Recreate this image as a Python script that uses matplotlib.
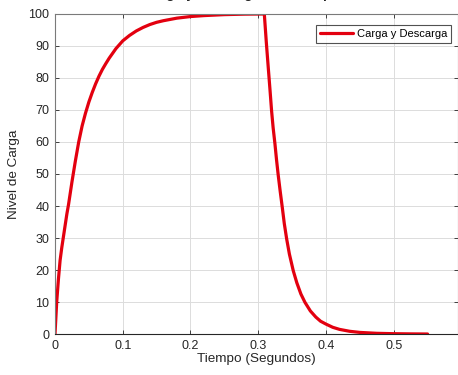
import matplotlib
matplotlib.use("Agg")
import matplotlib.pyplot as plt

# Charging phase
t_carga = [0, 0.0025, 0.005, 0.0075, 0.01, 0.0125, 0.015, 0.0175, 0.02, 0.025,
           0.03, 0.035, 0.04, 0.045, 0.05, 0.055, 0.06, 0.065, 0.07, 0.075,
           0.08, 0.09, 0.1, 0.11, 0.12, 0.13, 0.14, 0.15, 0.16, 0.18, 0.2,
           0.22, 0.25, 0.28, 0.309]
y_carga = [0, 10, 17, 23, 27, 30.5, 34, 37.5, 40.5, 47.5,
           54, 60, 65, 69, 72.5, 75.5, 78.2, 80.6, 82.7, 84.5,
           86.2, 89.2, 91.6, 93.3, 94.7, 95.8, 96.7, 97.4, 97.9, 98.7, 99.2,
           99.5, 99.8, 99.95, 100]
# Discharge phase
t_desc = [0.312, 0.3148, 0.3175, 0.3197, 0.322, 0.3247, 0.327, 0.3296, 0.3325,
          0.3355, 0.3385, 0.342, 0.346, 0.3517, 0.357, 0.363, 0.369, 0.377,
          0.385, 0.392, 0.4, 0.41, 0.42, 0.435, 0.45, 0.475, 0.5, 0.525, 0.55]
y_desc = [91, 83.3, 76, 69.8, 64.5, 59.4, 54.5, 49.5, 44.5,
          39.6, 34.5, 29.7, 25, 19.8, 16, 12.5, 9.9, 7.2,
          5.3, 4.0, 3.1, 2.1, 1.45, 0.85, 0.5, 0.22, 0.1, 0.04, 0.0]

t = t_carga + t_desc
y = y_carga + y_desc

xticks = [0, 0.1, 0.2, 0.3, 0.4, 0.5]
xticklabels = ["0", "0.1", "0.2", "0.3", "0.4", "0.5"]
yticks = [0, 10, 20, 30, 40, 50, 60, 70, 80, 90, 100]

plt.rcParams['font.family'] = ['Liberation Sans', 'DejaVu Sans']

fig = plt.figure(figsize=(4.58, 3.75), dpi=100)
ax = fig.add_axes([0.1201, 0.1093, 0.880, 0.8534])

ax.plot(t, y, color='#e3000f', linewidth=2.3, label='Carga y Descarga',
        solid_joinstyle='round', solid_capstyle='round')

ax.set_xlim(0, 0.595)
ax.set_ylim(0, 100)
ax.set_xticks(xticks)
ax.set_xticklabels(xticklabels)
ax.set_yticks(yticks)

ax.grid(True, color='#dcdcdc', linewidth=0.7)
ax.set_axisbelow(True)
ax.tick_params(direction='in', length=3, width=0.6, colors='#262626',
               labelsize=9, top=True, right=True, pad=4)
for s in ax.spines.values():
    s.set_color('#7a7a7a')
    s.set_linewidth(0.8)
ax.spines['bottom'].set_color('#262626')

ax.set_xlabel('Tiempo (Segundos)', fontsize=9.7, color='#262626', labelpad=1)
ax.set_ylabel('Nivel de Carga', fontsize=9.7, color='#262626', labelpad=6)

leg = ax.legend(loc='upper right', fontsize=8, frameon=True, fancybox=False,
                edgecolor='#262626', handlelength=3.0, handletextpad=0.3,
                borderpad=0.35, borderaxespad=0.0,
                bbox_to_anchor=(0.9826, 0.966))
leg.get_frame().set_linewidth(0.8)

fig.text(0.56, 1.0 + 1.8 / 375, 'Carga y Descarga de un Capacitor',
         ha='center', va='baseline', fontsize=10, fontweight='bold',
         color='#222222')

fig.savefig('out.png', dpi=100)
